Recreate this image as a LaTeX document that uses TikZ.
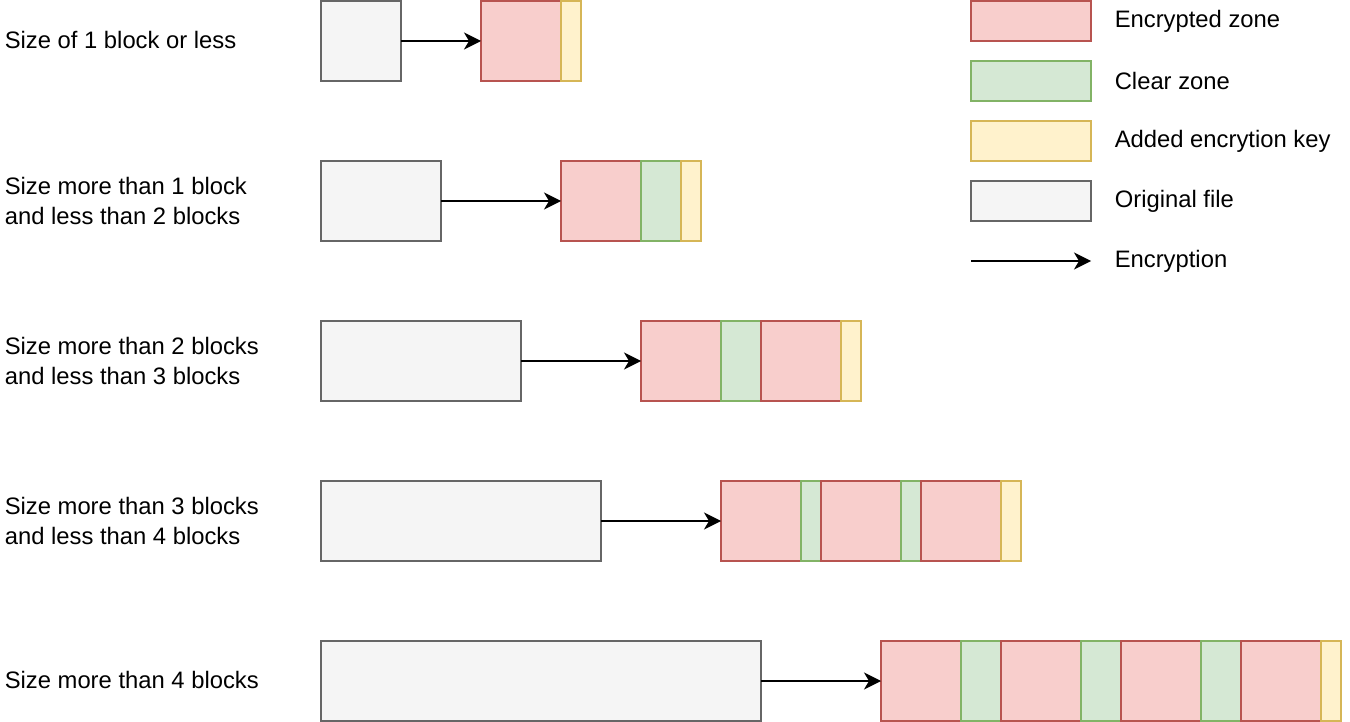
\documentclass[tikz,border=0pt]{standalone}
\usepackage{xcolor}
\usepackage{fontspec}
\setmainfont{Liberation Sans}
\usepackage{tikz}
\usetikzlibrary{arrows.meta,positioning}
\definecolor{encfill}{HTML}{F8CECC}
\definecolor{encline}{HTML}{B85450}
\definecolor{clrfill}{HTML}{D5E8D4}
\definecolor{clrline}{HTML}{82B366}
\definecolor{keyfill}{HTML}{FFF2CC}
\definecolor{keyline}{HTML}{D6B656}
\definecolor{origfill}{HTML}{F5F5F5}
\definecolor{origline}{HTML}{666666}

\begin{document}
\begin{tikzpicture}[x=1pt, y=-1pt, node distance=0pt, line width=1.6pt, box/.style={draw,minimum height=80pt,inner sep=0pt,outer sep=0pt}, orig/.style={box,fill=origfill,draw=origline}, enc/.style={box,fill=encfill,draw=encline,minimum width=80pt}, clr/.style={box,fill=clrfill,draw=clrline,minimum width=40pt}, key/.style={box,fill=keyfill,draw=keyline,minimum width=20pt}, legbox/.style={minimum width=120pt,minimum height=40pt,anchor=north west}, lbl/.style={anchor=west,align=left,inner sep=0pt,font=\fontsize{23.8}{30}\selectfont}, >={Stealth[length=17pt,width=17pt,inset=5pt]}]
\useasboundingbox (0,0) rectangle (1350,722);
% row labels
\node[lbl] (l1) at (4,40) {Size of 1 block or less};
\node[lbl] (l2) at (4,201) {Size more than 1 block\\and less than 2 blocks};
\node[lbl] (l3) at (4,361) {Size more than 2 blocks\\and less than 3 blocks};
\node[lbl] (l4) at (4,521) {Size more than 3 blocks\\and less than 4 blocks};
\node[lbl] (l5) at (4,680) {Size more than 4 blocks};
% row 1
\node[orig,minimum width=80pt,anchor=west] (o1) at (321,41) {};
\node[enc,anchor=west] (e1a) at (481,41) {};
\node[key,right=of e1a] (e1k) {};
\draw[->] (o1)--(e1a);
% row 2
\node[orig,minimum width=120pt,anchor=west] (o2) at (321,201) {};
\node[enc,anchor=west] (e2a) at (561,201) {};
\node[clr,right=of e2a] (e2b) {};
\node[key,right=of e2b] (e2k) {};
\draw[->] (o2)--(e2a);
% row 3
\node[orig,minimum width=200pt,anchor=west] (o3) at (321,361) {};
\node[enc,anchor=west] (e3a) at (641,361) {};
\node[clr,right=of e3a] (e3b) {};
\node[enc,right=of e3b] (e3c) {};
\node[key,right=of e3c] (e3k) {};
\draw[->] (o3)--(e3a);
% row 4
\node[orig,minimum width=280pt,anchor=west] (o4) at (321,521) {};
\node[enc,anchor=west] (e4a) at (721,521) {};
\node[clr,minimum width=20pt,right=of e4a] (e4b) {};
\node[enc,right=of e4b] (e4c) {};
\node[clr,minimum width=20pt,right=of e4c] (e4d) {};
\node[enc,right=of e4d] (e4e) {};
\node[key,right=of e4e] (e4k) {};
\draw[->] (o4)--(e4a);
% row 5
\node[orig,minimum width=440pt,anchor=west] (o5) at (321,681) {};
\node[enc,anchor=west] (e5a) at (881,681) {};
\node[clr,right=of e5a] (e5b) {};
\node[enc,right=of e5b] (e5c) {};
\node[clr,right=of e5c] (e5d) {};
\node[enc,right=of e5d] (e5e) {};
\node[clr,right=of e5e] (e5f) {};
\node[enc,right=of e5f] (e5g) {};
\node[key,right=of e5g] (e5k) {};
\draw[->] (o5)--(e5a);
% legend
\node[enc,legbox] (legenc) at (971,1) {};
\node[clr,legbox] (legclr) at (971,61) {};
\node[key,legbox] (legkey) at (971,121) {};
\node[orig,legbox] (legorig) at (971,181) {};
\coordinate (legfrom) at (971,261);
\coordinate (legto) at (1091,261);
\draw[->] (legfrom)--(legto);
\node[lbl,right=23pt of legenc] (tenc) {Encrypted zone};
\node[lbl,right=23pt of legclr] (tclr) {Clear zone};
\node[lbl,right=23pt of legkey] (tkey) {Added encrytion key};
\node[lbl,right=23pt of legorig] (torig) {Original file};
\node[lbl,right=23pt of legto] (tarrow) {Encryption};
\end{tikzpicture}
\end{document}
